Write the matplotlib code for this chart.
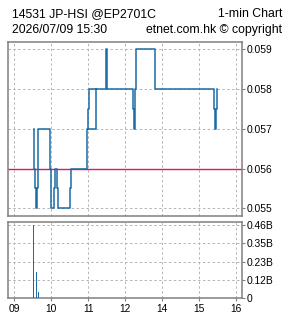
import numpy as np
import matplotlib
matplotlib.use("Agg")
import matplotlib.pyplot as plt

# === Data ===
# x = trading minutes after 09:30 (lunch break removed), y = price
line_min = [1.6, 1.6, 2.9, 2.9, 4.4, 4.4, 6.0, 6.0, 7.0, 7.0, 8.1, 8.1,
            28.1, 28.1, 29.2, 29.2, 34.9, 34.9, 36.0, 36.0, 39.7, 39.7,
            41.4, 41.4, 61.3, 61.3, 62.9, 62.9, 87.9, 87.9, 88.9, 88.9,
            90.0, 90.0, 91.1, 91.1, 119.2, 119.2, 121.3, 121.3, 163.5, 163.5,
            165.0, 165.0, 166.5, 166.5, 167.9, 167.9, 199.2, 199.2, 294.8, 294.8,
            295.6, 295.6, 297.2, 297.2, 299.7, 299.7,
            np.nan, 90.0, 102.5, 102.5, 103.5, 103.5]
line_px = [0.057, 0.0565, 0.0565, 0.056, 0.056, 0.0555, 0.0555, 0.055, 0.055, 0.0555, 0.0555, 0.057,
           0.057, 0.056, 0.056, 0.055, 0.055, 0.0555, 0.0555, 0.056, 0.056, 0.0555,
           0.0555, 0.055, 0.055, 0.0555, 0.0555, 0.056, 0.056, 0.0565, 0.0565, 0.057,
           0.057, 0.0575, 0.0575, 0.058, 0.058, 0.059, 0.059, 0.058, 0.058, 0.0575,
           0.0575, 0.057, 0.057, 0.058, 0.058, 0.059, 0.059, 0.058, 0.058, 0.0575,
           0.0575, 0.057, 0.057, 0.0575, 0.0575, 0.058,
           np.nan, 0.057, 0.057, 0.0575, 0.0575, 0.058]
prev_close = 0.056

vol_min = [1, 4, 6, 9]
vol_shares = [0.46e9, 0.247e9, 0.167e9, 0.041e9]

tick_min = [-30, 30, 90, 150, 210, 270, 330]
tick_labels = ["09", "10", "11", "12", "14", "15", "16"]
price_ticks = [0.055, 0.056, 0.057, 0.058, 0.059]
vol_tick_labels = ["0", "0.12B", "0.23B", "0.35B", "0.46B"]

# === Style ===
BLUE = "#1a6ba6"
RED = "#dc1470"
GREY = "#808080"
GRID = dict(color="#b4b4b4", linestyle=(0, (2.5, 2.5)), linewidth=0.7)
plt.rcParams["font.family"] = ["Liberation Sans", "DejaVu Sans"]

fig = plt.figure(figsize=(2.85, 3.18), dpi=100)
ax = fig.add_axes([0.029, 0.3208, 0.819, 0.546])
axv = fig.add_axes([0.029, 0.062, 0.819, 0.241])

xlim = (-39.7, 339.7)

# price panel
ax.plot(line_min, line_px, color=BLUE, lw=1.1, zorder=3)
ax.axhline(prev_close, color=RED, lw=1.0, zorder=2)
ax.set_xlim(*xlim)
ax.set_ylim(0.054806, 0.059176)
ax.set_xticks(tick_min)
ax.set_yticks(price_ticks)
ax.set_yticklabels([f"{p:.3f}" for p in price_ticks])
ax.grid(True, **GRID)
ax.yaxis.tick_right()
ax.tick_params(axis="x", length=0, labelbottom=False)
ax.tick_params(axis="y", length=2.2, width=0.8, color=GREY, pad=1.5, labelsize=7.4)

# volume panel
axv.bar(vol_min, vol_shares, width=1.0, color=BLUE, zorder=3)
axv.set_xlim(*xlim)
axv.set_ylim(0, 0.481e9)
vt = max(vol_shares) * np.linspace(0, 1, 5)
axv.set_yticks(vt)
axv.set_yticklabels(vol_tick_labels)
axv.set_xticks(tick_min)
axv.set_xticklabels(tick_labels)
axv.grid(True, **GRID)
axv.yaxis.tick_right()
axv.tick_params(axis="x", length=1.8, width=0.8, color=GREY, pad=2.5, labelsize=7.4)
axv.tick_params(axis="y", length=2.2, width=0.8, color=GREY, pad=1.5, labelsize=7.4)

for a in (ax, axv):
    a.set_axisbelow(True)
    for s in a.spines.values():
        s.set_color(GREY)
        s.set_linewidth(1.1)

# header text
H = 318
fig.text(12 / 285, 1 - 17 / H, "14531 JP-HSI @EP2701C", fontsize=8.8, va="baseline", ha="left")
fig.text(282 / 285, 1 - 17 / H, "1-min Chart", fontsize=8.8, va="baseline", ha="right")
fig.text(12 / 285, 1 - 33 / H, "2026/07/09 15:30", fontsize=8.8, va="baseline", ha="left")
fig.text(282 / 285, 1 - 33 / H, "etnet.com.hk \u00a9 copyright", fontsize=8.8, va="baseline", ha="right")

fig.savefig("out.png", dpi=100, facecolor="white")
